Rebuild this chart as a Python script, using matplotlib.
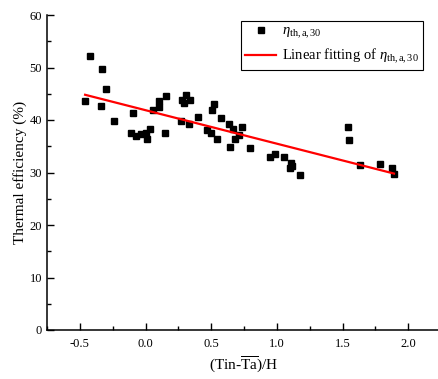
import matplotlib
matplotlib.use("Agg")
import matplotlib.pyplot as plt
import numpy as np
from matplotlib.ticker import MultipleLocator

plt.rcParams['font.family'] = ['Liberation Serif', 'DejaVu Serif']
plt.rcParams['mathtext.fontset'] = 'custom'
plt.rcParams['mathtext.rm'] = 'Liberation Serif'
plt.rcParams['mathtext.it'] = 'Liberation Serif:italic'
plt.rcParams['mathtext.bf'] = 'Liberation Serif:bold'

# data
x_vals = [-0.46, -0.424, -0.335, -0.30, -0.338, -0.237, -0.092, -0.107, -0.074, -0.033,
          0.005, 0.01, 0.035, 0.149, 0.055, 0.10, 0.106, 0.157, 0.276, 0.309,
          0.291, 0.339, 0.271, 0.332, 0.40, 0.524, 0.507, 0.573, 0.634, 0.664,
          0.733, 0.466, 0.497, 0.547, 0.715, 0.682, 0.644, 0.798, 0.948, 0.986,
          1.053, 1.108, 1.10, 1.113, 1.174, 1.542, 1.547, 1.636, 1.785, 1.874, 1.892]
eta_vals = [43.7, 52.1, 49.7, 45.9, 42.7, 39.9, 41.3, 37.6, 37.0, 37.3,
            37.6, 36.3, 38.2, 37.6, 41.9, 43.7, 42.5, 44.5, 43.8, 44.8,
            43.3, 43.8, 39.9, 39.2, 40.6, 43.0, 42.0, 40.4, 39.2, 38.2,
            38.7, 38.1, 37.5, 36.4, 37.1, 36.4, 34.9, 34.7, 33.0, 33.5,
            32.9, 31.9, 30.8, 31.2, 29.5, 38.7, 36.2, 31.4, 31.7, 30.8, 29.8]
fit_slope = -6.38
fit_intercept = 41.87

fig = plt.figure(figsize=(4.38, 3.79), dpi=100)
ax = fig.add_axes([47/438, 49/379, (441-47)/438, (330-15)/379])

ax.plot(x_vals, eta_vals, 's', color='black', ms=5, ls='none',
        label=r'$\eta_{\mathrm{th,a,30}}$')
fx = np.array([min(x_vals), max(x_vals)])
ax.plot(fx, fit_intercept + fit_slope * fx, color='red', lw=1.6,
        label=r'Linear fitting of $\eta_{\mathrm{th,a,30}}$')

ax.set_xlim(-0.75, 2.25)
ax.set_ylim(0, 60)
ax.xaxis.set_major_locator(MultipleLocator(0.5))
ax.xaxis.set_minor_locator(MultipleLocator(0.25))
ax.yaxis.set_major_locator(MultipleLocator(10))
ax.yaxis.set_minor_locator(MultipleLocator(5))
ax.set_xticks([-0.5, 0.0, 0.5, 1.0, 1.5, 2.0])
ax.set_xticklabels(['-0.5', '0.0', '0.5', '1.0', '1.5', '2.0'])
ax.tick_params(which='major', direction='in', length=5, width=1, labelsize=9)
ax.tick_params(axis='x', which='major', pad=6)
ax.tick_params(which='minor', direction='in', length=3, width=1)
ax.spines['top'].set_visible(False)
ax.spines['right'].set_visible(False)
ax.spines['left'].set_linewidth(1.1)
ax.spines['bottom'].set_linewidth(1.1)

ax.set_xlabel(r'(Tin-$\overline{\mathrm{Ta}}$)/H', fontsize=11, labelpad=3)
ax.set_ylabel('Thermal efficiency (%)', fontsize=11, labelpad=2)

leg = ax.legend(loc='upper right', bbox_to_anchor=(423/438, 1 - 21/379),
                bbox_transform=fig.transFigure, fontsize=10.5, frameon=True,
                fancybox=False, edgecolor='black', framealpha=1,
                handlelength=2.1, handletextpad=0.4, borderpad=0.3,
                labelspacing=0.35, borderaxespad=0)
leg.get_frame().set_linewidth(0.8)

fig.savefig('out.png', dpi=100)
